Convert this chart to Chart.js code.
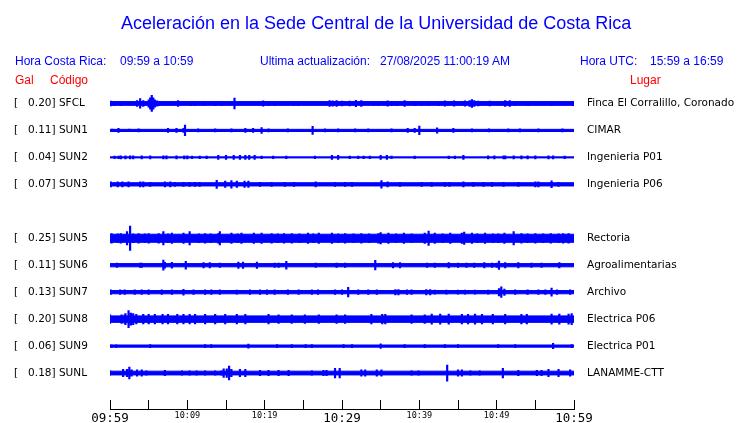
<!DOCTYPE html>
<html>
<head>
<meta charset="utf-8">
<script src="https://cdn.jsdelivr.net/npm/chart.js@4"></script>
<style>
  html, body { margin: 0; padding: 0; background: #fff; }
  #wrap { position: relative; width: 740px; height: 423px; overflow: hidden; }
  #chart { position: absolute; left: 0; top: 0; }
  .txt { position: absolute; font-family: "Liberation Sans", Arial, sans-serif; font-size: 12px; line-height: 12px; white-space: pre; color: #0000ff; }
  .title { font-size: 18px; line-height: 18px; }
  .red { color: #ff0000; }
</style>
</head>
<body>
<div id="wrap">
  <canvas id="chart" width="740" height="423"></canvas>
  <div class="txt title" style="left:121px; top:14px;">Aceleración en la Sede Central de la Universidad de Costa Rica</div>
  <div class="txt" style="left:15px; top:55px;">Hora Costa Rica:</div>
  <div class="txt" style="left:120px; top:55px;">09:59 a 10:59</div>
  <div class="txt" style="left:260px; top:55px;">Ultima actualización:</div>
  <div class="txt" style="left:380px; top:55px;">27/08/2025 11:00:19 AM</div>
  <div class="txt" style="left:580px; top:55px;">Hora UTC:</div>
  <div class="txt" style="left:650px; top:55px;">15:59 a 16:59</div>
  <div class="txt red" style="left:15px; top:74px;">Gal</div>
  <div class="txt red" style="left:50px; top:74px;">Código</div>
  <div class="txt red" style="left:630px; top:74px;">Lugar</div>
</div>
<script>
// stations (row 4 is the empty SUN4 slot)
const codes  = ['SFCL', 'SUN1', 'SUN2', 'SUN3', 'SUN5', 'SUN6', 'SUN7', 'SUN8', 'SUN9', 'SUNL'];
const peakGal = ['0.20', '0.11', '0.04', '0.07', '0.25', '0.11', '0.13', '0.20', '0.06', '0.18'];
const places = ['Finca El Corralillo, Coronado', 'CIMAR', 'Ingenieria P01', 'Ingenieria P06', 'Rectoria',
                'Agroalimentarias', 'Archivo', 'Electrica P06', 'Electrica P01', 'LANAMME-CTT'];
const rows = [0, 1, 2, 3, 5, 6, 7, 8, 9, 10];
// background noise level per trace, % of trace spacing
const noiseAmp = [7, 4, 2, 6, 15, 6, 6, 12, 4, 7];

// time axis (minutes after 09:59)
const timeLabels = ['09:59', '10:09', '10:19', '10:29', '10:39', '10:49', '10:59'];

// bursts: [minute, half amplitude (% of trace spacing)]
const sfclEvents = [[0.1,10],[0.5,9],[1.4,9],[3.5,12],[3.9,19],[4.3,12],[5.0,15],[5.2,22],[5.4,31],[5.6,22],[5.8,15],[6.1,11],[6.4,9],[8.8,12],[10.5,9],[11.0,9],[12.2,9],[13.6,9],[14.5,9],[16.1,21],[19.8,11],[20.5,9],[21.3,9],[23.8,9],[24.3,9],[28.4,12],[28.8,11],[29.3,12],[30.0,10],[31.0,10],[31.8,13],[32.5,12],[34.1,9],[34.7,9],[35.9,11],[36.4,9],[37.1,9],[38.1,12],[39.4,9],[40.3,9],[41.2,9],[42.5,9],[43.3,11],[44.5,11],[45.9,11],[46.5,12],[46.8,16],[47.1,12],[47.6,10],[49.1,10],[51.1,12],[51.7,12],[52.4,9],[54.1,9],[57.1,9],[59.9,9]];
const sun1Events = [[0.3,6],[1.1,9],[2.5,6],[3.7,7],[7.5,9],[8.6,9],[9.5,9],[9.7,21],[11.4,7],[13.6,7],[15.7,7],[17.5,9],[18.5,9],[19.6,12],[20.5,7],[23.0,7],[26.2,16],[27.8,7],[29.5,7],[31.7,7],[33.4,7],[36.4,7],[38.5,9],[39.4,9],[40.0,17],[42.3,11],[44.4,9],[46.8,7],[49.0,7],[51.5,7],[53.0,7],[55.4,7],[58.5,7]];
const sun2Events = [[0.6,6],[1.1,6],[1.4,7],[2.0,7],[2.6,7],[3.0,7],[4.1,7],[5.2,7],[6.9,7],[7.3,7],[8.6,7],[9.6,7],[10.0,7],[10.6,6],[11.6,6],[12.5,6],[14.0,9],[15.0,9],[16.0,9],[16.8,9],[17.5,9],[18.0,9],[18.7,9],[19.6,6],[21.1,6],[22.8,6],[26.5,6],[28.7,9],[29.5,9],[31.0,6],[32.1,6],[32.8,6],[33.6,6],[35.0,9],[35.8,9],[36.4,6],[39.4,6],[43.8,6],[44.6,6],[45.7,9],[48.9,7],[49.7,7],[50.9,7],[51.1,7],[52.2,7],[53.2,7],[54.0,7],[55.0,7],[56.7,7],[57.3,7],[58.8,6]];
const sun3Events = [[0.1,11],[1.0,11],[1.6,11],[2.4,11],[3.9,11],[4.3,11],[5.2,9],[7.1,11],[7.8,11],[8.4,9],[9.5,9],[10.3,9],[11.0,9],[11.6,9],[13.8,16],[14.9,13],[15.7,15],[16.4,13],[17.4,13],[17.9,13],[19.4,9],[20.9,9],[22.6,9],[23.8,9],[26.6,11],[29.1,9],[30.4,9],[31.3,9],[35.1,15],[35.9,11],[37.5,9],[40.3,9],[41.6,9],[43.3,9],[43.9,9],[45.7,11],[47.0,9],[48.3,9],[49.4,9],[50.9,9],[52.8,9],[55.0,11],[55.4,11],[57.1,14],[58.0,9]];
const sun5Events = [[0.2,19],[1.0,18],[1.4,19],[2.2,26],[2.6,46],[3.0,18],[3.7,19],[4.5,18],[5.0,19],[6.3,19],[6.9,26],[7.5,18],[8.0,20],[9.5,20],[10.3,26],[11.5,18],[12.3,19],[13.0,18],[14.0,19],[14.2,26],[15.7,20],[16.5,18],[17.0,20],[18.6,20],[19.6,20],[20.9,19],[21.7,18],[22.5,19],[23.5,19],[24.5,18],[25.6,20],[26.3,18],[27.0,20],[28.7,20],[29.5,18],[30.4,19],[31.5,18],[32.5,19],[33.5,18],[34.7,19],[35.0,22],[36.0,20],[37.0,18],[38.0,20],[39.0,18],[40.7,20],[41.2,28],[42.0,20],[43.0,18],[44.0,20],[45.5,20],[45.8,24],[46.8,20],[47.5,18],[48.5,20],[49.5,18],[50.2,18],[51.0,20],[52.2,26],[53.2,19],[54.0,18],[55.0,19],[56.0,18],[57.0,19],[58.0,18],[58.6,19],[59.3,19]];
const sun6Events = [[0.9,9],[3.9,9],[4.1,9],[6.9,20],[7.1,12],[8.0,12],[9.8,16],[12.1,11],[12.9,11],[14.2,9],[16.6,13],[17.2,13],[19.0,13],[21.3,9],[21.8,9],[22.8,16],[26.6,9],[29.3,9],[30.4,9],[34.3,19],[36.6,11],[37.5,11],[41.0,9],[42.0,9],[43.8,11],[45.0,9],[46.1,9],[47.1,9],[48.4,11],[49.4,9],[50.0,9],[50.3,17],[51.1,11],[52.8,11],[54.5,9],[55.8,9],[58.1,11]];
const sun7Events = [[0.1,10],[1.3,10],[1.9,10],[3.2,10],[4.1,10],[5.0,10],[6.7,10],[8.0,10],[9.5,12],[10.8,10],[12.3,10],[13.1,10],[14.2,10],[16.4,9],[18.1,10],[19.4,10],[20.3,10],[21.3,10],[23.0,10],[24.4,10],[26.1,10],[26.9,10],[29.1,10],[30.0,10],[30.8,19],[32.1,10],[33.4,10],[34.5,10],[36.9,11],[37.3,11],[38.4,10],[39.0,10],[40.9,11],[41.4,11],[42.0,9],[43.5,9],[45.0,9],[45.9,9],[47.2,9],[48.9,9],[50.3,15],[50.6,21],[51.0,13],[52.4,10],[54.0,10],[55.4,10],[56.3,10],[57.1,16],[57.8,10],[59.5,10]];
const sun8Events = [[0.0,17],[1.5,17],[1.9,17],[2.0,22],[2.4,33],[2.7,24],[3.0,22],[3.4,19],[4.3,19],[5.0,19],[5.8,19],[6.8,19],[7.5,19],[8.7,19],[9.5,19],[10.3,19],[11.0,19],[12.3,19],[13.6,19],[14.9,19],[16.4,19],[17.5,19],[20.5,19],[21.8,17],[23.5,17],[25.2,17],[27.0,17],[29.3,17],[30.4,17],[33.8,19],[35.2,19],[35.6,19],[39.0,17],[40.7,17],[41.6,20],[42.7,20],[43.8,20],[45.5,19],[46.3,19],[47.2,20],[48.1,19],[49.5,19],[51.1,19],[53.2,19],[53.9,19],[57.1,20],[58.1,20],[59.3,20],[59.7,22]];
const sun9Events = [[0.2,6],[0.8,6],[5.2,7],[12.3,7],[13.1,7],[17.9,9],[21.6,7],[23.5,7],[25.3,7],[26.1,7],[30.2,7],[31.3,7],[35.0,10],[38.1,7],[40.7,7],[43.3,7],[45.0,7],[50.2,7],[52.4,7],[57.3,11],[59.7,7]];
const sunlEvents = [[0.0,9],[1.7,15],[2.2,15],[2.5,23],[2.8,13],[3.5,13],[4.1,13],[4.7,9],[7.1,11],[9.3,9],[10.3,9],[11.2,9],[12.3,9],[13.6,9],[14.4,9],[14.7,17],[15.1,17],[15.4,27],[15.7,15],[16.8,15],[17.5,15],[19.4,11],[20.5,11],[21.8,11],[23.1,11],[26.1,9],[27.6,11],[28.0,11],[29.1,19],[29.7,19],[32.5,13],[33.0,13],[34.5,13],[35.1,13],[39.0,9],[39.9,9],[43.6,31],[45.0,13],[45.5,13],[46.6,9],[47.8,9],[50.8,19],[52.8,11],[55.2,11],[55.8,11],[56.7,15],[58.0,15],[59.5,13]];
const events = [sfclEvents, sun1Events, sun2Events, sun3Events, sun5Events, sun6Events, sun7Events, sun8Events, sun9Events, sunlEvents];

document.addEventListener('DOMContentLoaded', function(){
  const BLUE = '#0000ff';
  const SPACING = 100; // trace spacing on the y scale
  const datasets = [];

  codes.forEach(function(code, i){
    const base = rows[i] * SPACING;
    const n = noiseAmp[i];
    // noise band (upper and lower edge, filled between)
    datasets.push({
      type: 'line', data: [{x: 0, y: base - n}, {x: 60, y: base - n}],
      borderColor: BLUE, borderWidth: 1, pointRadius: 0, fill: false
    });
    datasets.push({
      type: 'line', data: [{x: 0, y: base + n}, {x: 60, y: base + n}],
      borderColor: BLUE, borderWidth: 1, pointRadius: 0, fill: '-1', backgroundColor: BLUE
    });
    // bursts as vertical strokes
    const pts = [];
    events[i].forEach(function(e){
      pts.push({x: e[0], y: base - e[1]}, {x: e[0], y: base + e[1]}, {x: e[0], y: null});
    });
    datasets.push({
      type: 'line', data: pts, borderColor: BLUE, borderWidth: 2.2,
      pointRadius: 0, spanGaps: false, fill: false
    });
  });

  const rowTicks = function(scale){
    scale.ticks = rows.map(r => ({value: r * SPACING}));
  };
  const rowIndex = v => rows.indexOf(Math.round(v / SPACING));

  const axisLine = {
    id: 'axisLine',
    afterDraw(chart){
      const xs = chart.scales.x;
      const ctx = chart.ctx;
      const y = Math.round(xs.top + xs.options.grid.tickLength) + 0.5;
      ctx.save();
      ctx.strokeStyle = '#000';
      ctx.lineWidth = 1;
      ctx.beginPath();
      ctx.moveTo(xs.getPixelForValue(0), y);
      ctx.lineTo(xs.getPixelForValue(60) + 1, y);
      ctx.stroke();
      ctx.restore();
    }
  };

  new Chart(document.getElementById('chart'), {
    data: { datasets: datasets },
    options: {
      responsive: false,
      animation: false,
      events: [],
      layout: { padding: { left: 14, right: 0, top: 90, bottom: 0 } },
      plugins: { legend: { display: false }, tooltip: { enabled: false } },
      scales: {
        x: {
          type: 'linear', min: 0, max: 60,
          afterFit(scale){ scale.height = 23; },
          border: { display: false },
          grid: { drawOnChartArea: false, drawTicks: true, tickLength: 9, color: '#000' },
          ticks: {
            stepSize: 5, padding: 2, color: '#000', maxRotation: 0, autoSkip: false,
            font: function(c){
              const v = c.tick ? c.tick.value : 0;
              return v % 30 === 0 ? {family: 'DejaVu Sans Mono', size: 12.5} : {family: 'DejaVu Sans Mono', size: 8.5};
            },
            callback: v => (v % 10 === 0 ? timeLabels[v / 10] : '')
          }
        },
        y: {
          type: 'linear', position: 'left', reverse: true, min: -50, max: 1100,
          afterFit(scale){ scale.width = 96; },
          afterBuildTicks: rowTicks,
          border: { display: false },
          grid: { display: false, drawTicks: false },
          ticks: {
            crossAlign: 'far', padding: 0, color: '#000',
            font: {family: 'DejaVu Sans', size: 10.5},
            callback: function(v){
              const i = rowIndex(v);
              return i < 0 ? '' : '[   ' + peakGal[i] + '] ' + codes[i];
            }
          }
        },
        y2: {
          type: 'linear', position: 'right', reverse: true, min: -50, max: 1100,
          afterFit(scale){ scale.width = 166; },
          afterBuildTicks: rowTicks,
          border: { display: false },
          grid: { display: false, drawTicks: false },
          ticks: {
            crossAlign: 'near', padding: 13, color: '#000',
            font: {family: 'DejaVu Sans', size: 10.5},
            callback: function(v){
              const i = rowIndex(v);
              return i < 0 ? '' : places[i];
            }
          }
        }
      }
    },
    plugins: [axisLine]
  });
});
</script>
</body>
</html>
